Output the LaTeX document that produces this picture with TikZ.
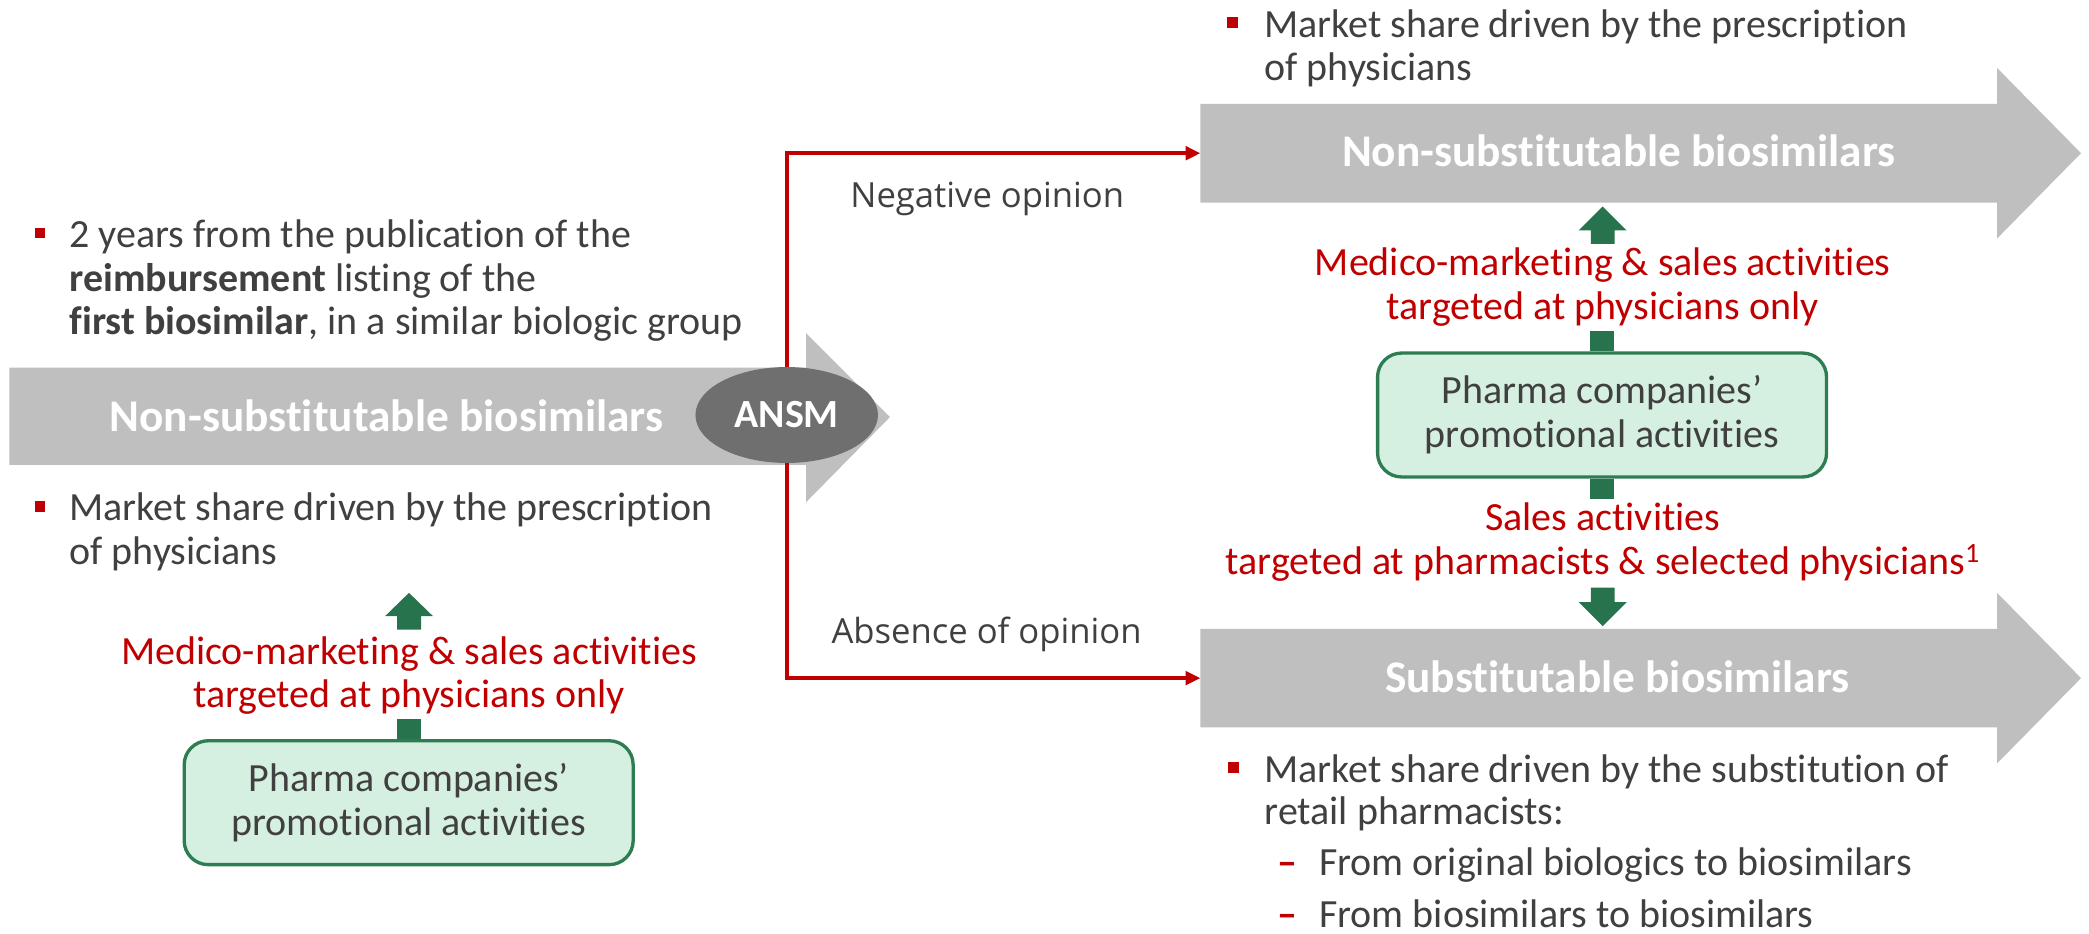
\documentclass[tikz,border=0pt]{standalone}
\usepackage{fontspec}
\setmainfont{Carlito}[Ligatures={NoCommon}]
\newfontfamily\osans{Open Sans}
\usetikzlibrary{arrows.meta,shapes.geometric}
\definecolor{tgray}{HTML}{404040}
\definecolor{agray}{HTML}{BFBFBF}
\definecolor{egray}{HTML}{6F6F6F}
\definecolor{cred}{HTML}{C00000}
\definecolor{cgreen}{HTML}{27734D}
\definecolor{bfill}{HTML}{D5EFE0}
\definecolor{bline}{HTML}{2E7D52}
\newcommand\GreenArr[4]{% x, tip, head base, shaft end
  \fill[cgreen] (#1-9,#4) -- (#1-9,#3) -- (#1-18,#3) -- (#1,#2) -- (#1+18,#3) -- (#1+9,#3) -- (#1+9,#4) -- cycle;}
\begin{document}
\begin{tikzpicture}[x=1pt,y=-1pt,
  txt/.style={inner sep=0pt, font=\fontsize{30}{33}\selectfont, text=tgray, anchor=base west},
  ctxt/.style={txt, anchor=base},
  rtxt/.style={ctxt, text=cred},
  dashtxt/.style={txt, text=cred},
  wtxt/.style={inner sep=0pt, anchor=base, text=white, font=\fontsize{34}{40}\selectfont\bfseries},
  otxt/.style={inner sep=0pt, anchor=base, text=tgray, font=\osans\fontsize{26}{30}\selectfont},
  pbox/.style={draw=bline, line width=2.5pt, fill=bfill, rounded corners=18pt, minimum width=337pt, minimum height=93pt, inner sep=0pt, align=center, text=tgray, font=\fontsize{30}{33}\selectfont},
  bul/.style={fill=cred},
  redline/.style={draw=cred, line width=2.7pt, -{Triangle[length=11pt,width=10pt]}},
  gshaft/.style={draw=cgreen, line width=18pt},
]
\useasboundingbox (0,0) rectangle (1568,701);

% big gray arrows
\fill[agray] (7,276) -- (605,276) -- (605,250) -- (668,313) -- (605,377) -- (605,349) -- (7,349) -- cycle;
\fill[agray] (901,78) -- (1499,78) -- (1499,51) -- (1562,115) -- (1499,179) -- (1499,152) -- (901,152) -- cycle;
\fill[agray] (901,472) -- (1499,472) -- (1499,445) -- (1562,509) -- (1499,573) -- (1499,546) -- (901,546) -- cycle;
\coordinate (ntin) at (901,115);
\coordinate (stin) at (901,509);

\node[wtxt] (lefttitle) at (290,324) {Non-substitutable biosimilars};
\node[wtxt] (toptitle) at (1215,125) {Non-substitutable biosimilars};
\node[wtxt] (bottitle) at (1214,520) {Substitutable biosimilars};

% ANSM
\node[ellipse, fill=egray, minimum width=137pt, minimum height=72pt, inner sep=0pt, text=white, font=\fontsize{30}{33}\selectfont\bfseries] (ansm) at (590.5,311.5) {ANSM};

% red connectors
\draw[redline] (ansm.north) -- (ansm.north |- ntin) -- (ntin);
\draw[redline] (ansm.south) -- (ansm.south |- stin) -- (stin);
\node[otxt] (neg) at (741,156) {Negative opinion};
\node[otxt] (abs) at (740.5,483) {Absence of opinion};

% left texts
\fill[bul] (26,171) rectangle (34,179);
\node[txt] (l1a) at (52,186) {2 years from the publication of the};
\node[txt] (l1b) at (52,218.5) {\textbf{reimbursement} listing of the};
\node[txt] (l1c) at (52,251) {\textbf{first biosimilar}, in a similar biologic group};
\fill[bul] (26,376) rectangle (34,384);
\node[txt] (l2a) at (52,391) {Market share driven by the prescription};
\node[txt] (l2b) at (52,424) {of physicians};

% left promo
\GreenArr{307}{445}{462.5}{472.5}
\node[rtxt] (lr1) at (307,498.5) {Medico-marketing \& sales activities};
\node[rtxt] (lr2) at (307,531) {targeted at physicians only};
\node[pbox] (boxL) at (306.75,602.5) {Pharma companies’\\promotional activities};
\draw[gshaft] (boxL.north) -- ++(0,-15);

% right top texts
\fill[bul] (921,13) rectangle (929,21);
\node[txt] (r1a) at (949,28) {Market share driven by the prescription};
\node[txt] (r1b) at (949,60.5) {of physicians};

% right promo
\GreenArr{1203}{155}{173}{183}
\node[rtxt] (rr1) at (1203,207) {Medico-marketing \& sales activities};
\node[rtxt] (rr2) at (1203,240) {targeted at physicians only};
\node[pbox] (boxR) at (1202.5,311.5) {Pharma companies’\\promotional activities};
\draw[gshaft] (boxR.north) -- ++(0,-15);
\draw[gshaft] (boxR.south) -- ++(0,15);
\node[rtxt] (rs1) at (1203,398) {Sales activities};
\node[rtxt] (rs2) at (1203,431.5) {targeted at pharmacists \& selected physicians\textsuperscript{1}};
\GreenArr{1203}{470}{452}{441}

% right bottom texts
\fill[bul] (922,572) rectangle (930,580);
\node[txt] (r2a) at (949,587) {Market share driven by the substitution of};
\node[txt] (r2b) at (949,619) {retail pharmacists:};
\node[dashtxt] (d1) at (959,657.5) {\bfseries –};
\node[txt] (r2c) at (990,657.5) {From original biologics to biosimilars};
\node[dashtxt] (d2) at (959,696) {\bfseries –};
\node[txt] (r2d) at (990,696) {From biosimilars to biosimilars};
\end{tikzpicture}
\end{document}
